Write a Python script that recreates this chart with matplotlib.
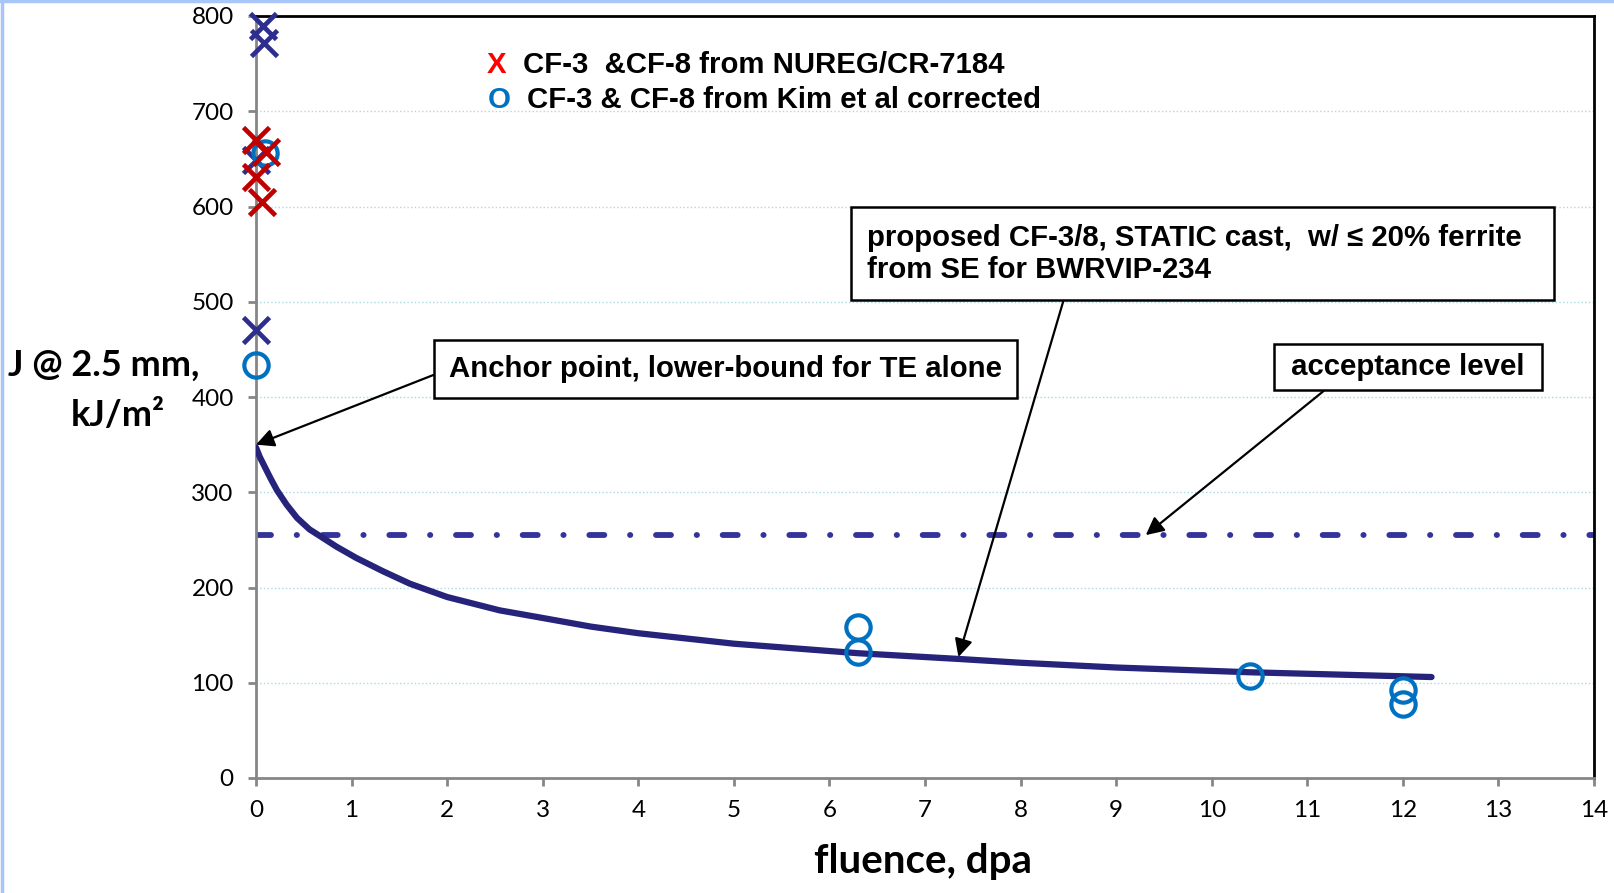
import matplotlib
matplotlib.use("Agg")
import matplotlib.pyplot as plt
from matplotlib.lines import Line2D

plt.rcParams['font.family'] = ['Lato', 'DejaVu Sans']
plt.rcParams['lines.scale_dashes'] = False

# data
nureg_x = [0.0, 0.10, 0.0, 0.06]
nureg_y = [670, 657, 631, 605]

other_x = [0.07, 0.08, 0.0, 0.0]
other_y = [789, 772, 649, 470]

kim_x = [0.09, 0.0, 6.3, 6.3, 10.4, 12.0, 12.0]
kim_y = [656, 434, 159, 132, 107, 92, 78]

curve_x = [0.0, 0.04, 0.08, 0.15, 0.22, 0.32, 0.43, 0.56, 0.67, 0.84, 1.05, 1.33, 1.61,
           2.0, 2.55, 3.0, 3.5, 4.0, 5.0, 6.3, 7.35, 8.0, 9.0, 10.4, 12.3]
curve_y = [347, 337, 329, 315, 302, 287, 273, 261, 254, 243, 231, 217, 204,
           190, 176, 168, 159, 152, 141, 131, 125, 121, 116, 111, 106]

accept_level = 255
anchor_pt = (0.0, 350)

x_ticks = list(range(0, 15))
y_ticks = list(range(0, 801, 100))

fig = plt.figure(figsize=(16.14, 8.93), dpi=100)
ax = fig.add_axes([256/1614, 1 - 778/893, 1338/1614, 762/893])

# grid
for yv in y_ticks[1:-1]:
    ax.axhline(yv, color='#A9D9E2', lw=1, ls=':', zorder=0)

# acceptance line (dash-dot)
ax.axhline(accept_level, color='#33339A', lw=4.2, dashes=[10.8, 18.5, 0.2, 18.5],
           dash_capstyle='round', zorder=2)

# fitted curve
ax.plot(curve_x, curve_y, color='#25237A', lw=4.5, solid_capstyle='round',
        solid_joinstyle='round', zorder=3)

# markers
ax.plot(other_x, other_y, ls='none', marker='x', ms=18.5, mew=3.4, color='#2E2E8E',
        clip_on=False, zorder=4)
ax.plot(kim_x, kim_y, ls='none', marker='o', ms=17.5, mew=3, mfc='none', mec='#0070C0',
        clip_on=False, zorder=5)
ax.plot(nureg_x, nureg_y, ls='none', marker='x', ms=18.5, mew=3.4, color='#C00000',
        clip_on=False, zorder=6)

ax.set_xlim(0, 14)
ax.set_ylim(0, 800)
ax.set_xticks(x_ticks)
ax.set_yticks(y_ticks)
ax.tick_params(axis='both', which='major', labelsize=17.5, color='#868686', width=2,
               length=6, direction='out')
ax.tick_params(axis='y', pad=10)
ax.tick_params(axis='x', pad=10)

for s in ['left', 'bottom']:
    ax.spines[s].set_color('#868686')
    ax.spines[s].set_linewidth(2)
for s in ['top', 'right']:
    ax.spines[s].set_color('black')
    ax.spines[s].set_linewidth(2)

# axis labels
fig.text(104/1614, 1 - 365/893, 'J @ 2.5 mm,', ha='center', va='center',
         fontsize=26, fontweight='bold')
fig.text(118/1614, 1 - 416/893, 'kJ/m²', ha='center', va='center',
         fontsize=26, fontweight='bold')
fig.text(923/1614, 1 - 862/893, 'fluence, dpa', ha='center', va='center',
         fontsize=29, fontweight='bold')

arial = ['Liberation Sans', 'DejaVu Sans']
fs = 21.2

# legend as text
ax.text(0.180, 0.936, 'X', color='#FF0000', fontsize=fs, fontweight='bold',
        family=arial, ha='center', va='center', transform=ax.transAxes)
ax.text(0.1996, 0.936, 'CF-3  &CF-8 from NUREG/CR-7184', fontsize=fs, fontweight='bold',
        family=arial, ha='left', va='center', transform=ax.transAxes)
ax.text(0.1816, 0.890, 'O', color='#0070C0', fontsize=fs, fontweight='bold',
        family=arial, ha='center', va='center', transform=ax.transAxes)
ax.text(0.2025, 0.890, 'CF-3 & CF-8 from Kim et al corrected', fontsize=fs,
        fontweight='bold', family=arial, ha='left', va='center', transform=ax.transAxes)

box = dict(boxstyle='square,pad=0.5', fc='white', ec='black', lw=1.8)
arw = dict(arrowstyle='-|>', color='black', lw=1.6, mutation_scale=27, shrinkA=0, shrinkB=0)

ax.annotate('Anchor point, lower-bound for TE alone', xy=anchor_pt,
            xytext=(0.351, 0.537), textcoords='axes fraction',
            fontsize=fs, fontweight='bold', family=arial, ha='center', va='center',
            bbox=box, arrowprops=dict(arw, relpos=(0, 0.5)), annotation_clip=False, zorder=7)

ax.annotate('proposed CF-3/8, STATIC cast,  w/ \u2264 20% ferrite  \nfrom SE for BWRVIP-234',
            xy=(7.35, 127), xytext=(0.4567, 0.688), textcoords='axes fraction',
            fontsize=fs, fontweight='bold', family=arial, ha='left', va='center',
            linespacing=1.2, bbox=dict(box, boxstyle='square,pad=0.55'),
            arrowprops=dict(arw, relpos=(0.3, 0)), zorder=7)

ax.annotate(' acceptance level ', xy=(9.31, accept_level), xytext=(0.861, 0.539),
            textcoords='axes fraction', fontsize=fs, fontweight='bold', family=arial,
            ha='center', va='center', bbox=dict(box, boxstyle='square,pad=0.3'),
            arrowprops=dict(arw, relpos=(0.21, 0)), zorder=7)

# slide border on top and left
fig.add_artist(Line2D([0, 1], [0.999, 0.999], transform=fig.transFigure, color='#A9C6FA', lw=2.5))
fig.add_artist(Line2D([0.001, 0.001], [0, 1], transform=fig.transFigure, color='#A9C6FA', lw=2.5))

fig.savefig('out.png', dpi=100)
